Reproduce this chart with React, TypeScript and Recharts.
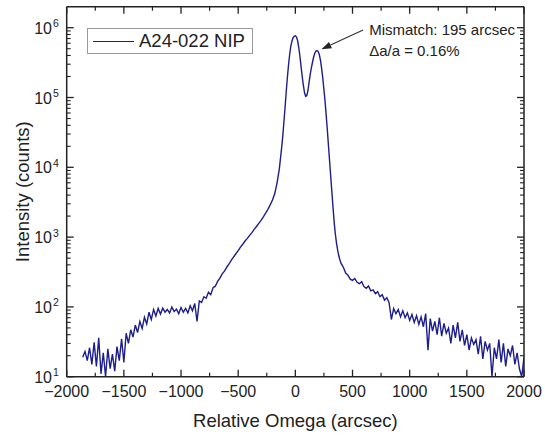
import React from 'react';
import { LineChart, Line, XAxis, YAxis, ReferenceLine } from 'recharts';

// ---------- data ----------
const omega = [
  -1860, -1840, -1820, -1800, -1780, -1760, -1740, -1720, -1700, -1680,
  -1660, -1640, -1620, -1600, -1580, -1560, -1540, -1520, -1500, -1480,
  -1460, -1440, -1420, -1400, -1380, -1360, -1340, -1320, -1300, -1280,
  -1260, -1240, -1220, -1200,
  -1180, -1160, -1140, -1120, -1100, -1080, -1060, -1040, -1020, -1000,
  -980, -960, -940, -920, -900, -880, -860, -840, -820, -800,
  -780, -760, -740, -720, -700, -680, -660, -640, -620, -600,
  -580, -560, -540, -520, -500, -480, -460, -440, -420, -400,
  -380, -360, -340, -320, -300, -280, -260, -240, -220, -200,
  -180, -160, -140, -120,
  -110, -100, -90, -80, -70, -60, -50, -40, -30, -20,
  -10, 0, 10, 20, 30, 40, 50, 60, 70, 80,
  90, 100, 110, 120, 130, 140, 150, 160, 170, 180,
  190, 200, 210, 220, 230, 240, 250, 260, 270, 280,
  290, 300, 310, 320, 330, 340, 350, 360, 370, 380,
  390, 400,
  420, 440, 460, 480, 500, 520, 540, 560, 580, 600,
  620, 640, 660, 680, 700, 720, 740, 760, 780, 800,
  820, 840, 860, 880, 900, 920, 940, 960, 980, 1000,
  1020, 1040, 1060, 1080, 1100, 1120, 1140, 1160, 1180, 1200,
  1220, 1240, 1260, 1280, 1300, 1320, 1340, 1360, 1380, 1400,
  1420, 1440, 1460, 1480, 1500, 1520, 1540, 1560, 1580, 1600,
  1620, 1640, 1660, 1680, 1700, 1720, 1740, 1760, 1780, 1800,
  1820, 1840, 1860, 1880, 1900, 1920, 1940, 1960, 1980, 2000,
];

const intensity = [
  19, 23, 17, 26, 15, 31, 14, 36, 11, 22,
  10, 25, 13, 21, 12, 27, 17, 35, 16, 42,
  30, 47, 37, 55, 43, 62, 49, 71, 57, 84,
  66, 92, 74, 95,
  79, 96, 84, 92, 82, 100, 86, 93, 80, 98,
  84, 95, 82, 104, 88, 112, 62, 122, 116, 140,
  133, 162, 150, 188, 198, 232, 258, 298, 326, 370,
  412, 468, 520, 578, 640, 718, 790, 880, 960, 1060,
  1160, 1290, 1420, 1570, 1740, 1950, 2200, 2500, 2900, 3400,
  4200, 6000, 9500, 19000,
  28000, 45000, 72000, 120000, 190000, 290000, 410000, 540000, 640000, 720000,
  755000, 765000, 735000, 650000, 520000, 390000, 280000, 200000, 150000, 118000,
  104000, 106000, 125000, 165000, 215000, 265000, 320000, 380000, 430000, 462000,
  470000, 455000, 410000, 340000, 260000, 190000, 130000, 88000, 55000, 34000,
  20000, 12000, 7200, 4300, 2600, 1600, 1100, 820, 650, 540,
  470, 420,
  370, 305, 285, 250, 240, 255, 225, 215, 230, 195,
  185, 200, 170, 175, 155, 165, 140, 150, 125, 135,
  115, 66, 95, 80, 92, 72, 88, 70, 82, 64,
  78, 60, 75, 56, 72, 52, 80, 24, 68, 45,
  62, 40, 70, 38, 58, 42, 50, 30, 55, 36,
  60, 32, 47, 28, 40, 24, 36, 29, 34, 21,
  38, 18, 32, 24, 30, 10, 26, 18, 34, 16,
  30, 14, 25, 20, 28, 15, 22, 13, 10, 19,
];

const xMajorTicks = [-2000, -1500, -1000, -500, 0, 500, 1000, 1500, 2000];
const xMinorTicks = [-1750, -1250, -750, -250, 250, 750, 1250, 1750];
const yMajorTicks = [10, 100, 1000, 10000, 100000, 1000000];
const yMinorTicks = [
  20, 30, 40, 50, 60, 70, 80, 90,
  200, 300, 400, 500, 600, 700, 800, 900,
  2000, 3000, 4000, 5000, 6000, 7000, 8000, 9000,
  20000, 30000, 40000, 50000, 60000, 70000, 80000, 90000,
  200000, 300000, 400000, 500000, 600000, 700000, 800000, 900000,
];
const xDomain = [-2000, 2000];
const yDomain = [10, 2000000];

const seriesName = 'A24-022 NIP';
const annotationLine1 = 'Mismatch: 195 arcsec';
const annotationLine2 = '\u0394a/a = 0.16%';
// arrow (annotation) endpoints in data units: tail -> tip (second peak)
const arrowTail = { x: 593, y: 930000 };
const arrowTip = { x: 228, y: 490000 };

const data = omega.map((o, i) => ({ omega: o, intensity: intensity[i] }));

// ---------- layout ----------
const W = 545;
const H = 436;
const PL = 66.7;
const PR = 524;
const PT = 6.7;
const PB = 376.7;
const FONT = '"Liberation Sans", Arial, Helvetica, sans-serif';
const AXIS = '#222';
const LINE = '#1d1d8c';

const fmtX = (v: number) => (v < 0 ? '\u2212' + Math.abs(v) : String(v));

const XMajorTick = (props: any) => {
  const { x, payload } = props;
  return (
    <g>
      <line x1={x} x2={x} y1={PB} y2={PB - 7} stroke={AXIS} strokeWidth={1.3} />
      <line x1={x} x2={x} y1={PT} y2={PT + 7} stroke={AXIS} strokeWidth={1.3} />
      <text x={x} y={397} textAnchor="middle" fontSize={16} fill="#222" fontFamily={FONT}>
        {fmtX(payload.value)}
      </text>
    </g>
  );
};

const XMinorTick = (props: any) => {
  const { x } = props;
  return (
    <g>
      <line x1={x} x2={x} y1={PB} y2={PB - 4} stroke={AXIS} strokeWidth={1.2} />
      <line x1={x} x2={x} y1={PT} y2={PT + 4} stroke={AXIS} strokeWidth={1.2} />
    </g>
  );
};

const YMajorTick = (props: any) => {
  const { y, payload } = props;
  const exp = Math.round(Math.log10(payload.value));
  return (
    <g>
      <line x1={PL} x2={PL + 7} y1={y} y2={y} stroke={AXIS} strokeWidth={1.3} />
      <line x1={PR} x2={PR - 7} y1={y} y2={y} stroke={AXIS} strokeWidth={1.3} />
      <text x={52} y={y + 6} textAnchor="end" fontSize={16} fill="#222" fontFamily={FONT}>
        10
      </text>
      <text x={53} y={y - 0.5} textAnchor="start" fontSize={10.5} fill="#222" fontFamily={FONT}>
        {exp}
      </text>
    </g>
  );
};

const YMinorTick = (props: any) => {
  const { y } = props;
  return (
    <g>
      <line x1={PL} x2={PL + 4} y1={y} y2={y} stroke={AXIS} strokeWidth={1.1} />
      <line x1={PR} x2={PR - 4} y1={y} y2={y} stroke={AXIS} strokeWidth={1.1} />
    </g>
  );
};

const ArrowShape = (props: any) => {
  const { x1, y1, x2, y2 } = props;
  const dx = x2 - x1;
  const dy = y2 - y1;
  const len = Math.sqrt(dx * dx + dy * dy) || 1;
  const ux = dx / len;
  const uy = dy / len;
  const hl = 10;
  const hw = 3.5;
  const bx = x2 - ux * hl;
  const by = y2 - uy * hl;
  const p1 = `${x2},${y2}`;
  const p2 = `${bx - uy * hw},${by + ux * hw}`;
  const p3 = `${bx + uy * hw},${by - ux * hw}`;
  return (
    <g>
      <line x1={x1} y1={y1} x2={bx} y2={by} stroke="#333" strokeWidth={1.1} />
      <polygon points={`${p1} ${p2} ${p3}`} fill="#222" />
      <text x={x1 + 6} y={y1 + 5.5} fontSize={15} fill="#222" fontFamily={FONT}>
        {annotationLine1}
      </text>
      <text x={x1 + 6} y={y1 + 26.5} fontSize={15} fill="#222" fontFamily={FONT}>
        {annotationLine2}
      </text>
    </g>
  );
};

const XTitle = () => (
  <text x={(PL + PR) / 2} y={426.5} textAnchor="middle" fontSize={18.5} fill="#222" fontFamily={FONT}>
    Relative Omega (arcsec)
  </text>
);

const YTitle = () => (
  <text
    x={29}
    y={(PT + PB) / 2}
    transform={`rotate(-90 29 ${(PT + PB) / 2})`}
    textAnchor="middle"
    fontSize={18.5}
    fill="#222"
    fontFamily={FONT}
  >
    Intensity (counts)
  </text>
);

export default function App() {
  return (
    <div style={{ position: 'absolute', left: 0, top: 0, width: W, height: H, background: '#fff', overflow: 'visible' }}>
      <LineChart
        width={W}
        height={H}
        data={data}
        margin={{ top: PT - 1, right: W - PR - 1, bottom: 0, left: 0 }}
        style={{ overflow: 'visible' }}
      >
        <XAxis
          xAxisId="main"
          dataKey="omega"
          type="number"
          domain={xDomain}
          ticks={xMajorTicks}
          interval={0}
          tick={XMajorTick}
          tickLine={false}
          axisLine={{ stroke: AXIS, strokeWidth: 1.5 }}
          height={H - PB}
          allowDataOverflow
          label={XTitle}
        />
        <XAxis
          xAxisId="minor"
          dataKey="omega"
          orientation="top"
          type="number"
          domain={xDomain}
          ticks={xMinorTicks}
          interval={0}
          tick={XMinorTick}
          tickLine={false}
          axisLine={{ stroke: AXIS, strokeWidth: 1.5 }}
          height={1}
          allowDataOverflow
        />
        <YAxis
          yAxisId="main"
          type="number"
          scale="log"
          domain={yDomain}
          ticks={yMajorTicks}
          interval={0}
          tick={YMajorTick}
          tickLine={false}
          axisLine={{ stroke: AXIS, strokeWidth: 1.5 }}
          width={PL}
          allowDataOverflow
          label={YTitle}
        />
        <YAxis
          yAxisId="minor"
          orientation="right"
          type="number"
          scale="log"
          domain={yDomain}
          ticks={yMinorTicks}
          interval={0}
          tick={YMinorTick}
          tickLine={false}
          axisLine={{ stroke: AXIS, strokeWidth: 1.5 }}
          width={1}
          allowDataOverflow
        />
        <Line
          xAxisId="minor"
          yAxisId="minor"
          type="linear"
          dataKey="intensity"
          stroke="none"
          strokeWidth={0}
          dot={false}
          activeDot={false}
          legendType="none"
          isAnimationActive={false}
        />
        <Line
          xAxisId="main"
          yAxisId="main"
          type="linear"
          dataKey="intensity"
          name={seriesName}
          stroke={LINE}
          strokeWidth={1.4}
          dot={false}
          activeDot={false}
          isAnimationActive={false}
        />
        <ReferenceLine
          xAxisId="main"
          yAxisId="main"
          segment={[arrowTail, arrowTip]}
          ifOverflow="visible"
          shape={ArrowShape}
        />
      </LineChart>
      <div
        style={{
          position: 'absolute',
          left: 87,
          top: 28,
          width: 164,
          height: 24,
          border: '1px solid #9a9a9a',
          background: '#fff',
          fontFamily: FONT,
          fontSize: 18.5,
          color: '#222',
          boxSizing: 'content-box',
        }}
      >
        <div style={{ position: 'absolute', left: 5, top: 12, width: 41, height: 0, borderTop: `1.5px solid ${LINE}` }} />
        <div style={{ position: 'absolute', left: 51, top: 1, lineHeight: '22px', whiteSpace: 'nowrap' }}>{seriesName}</div>
      </div>
    </div>
  );
}
